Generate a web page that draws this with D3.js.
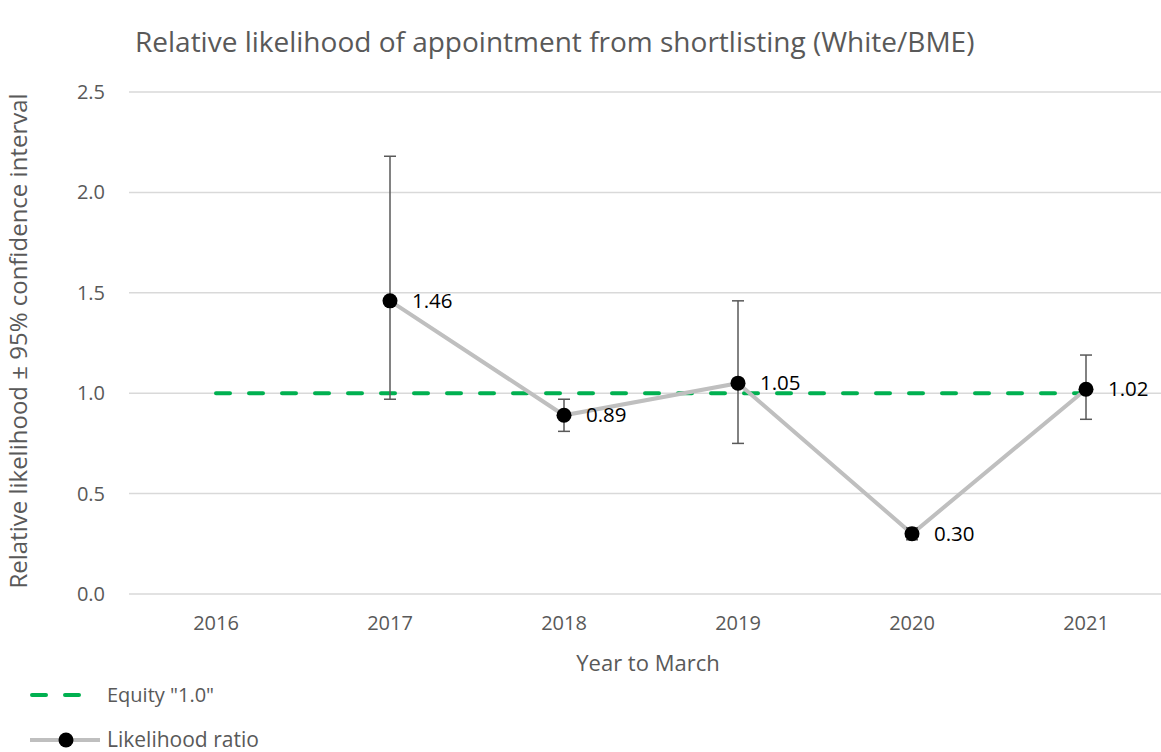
<!DOCTYPE html>
<html>
<head>
<meta charset="utf-8">
<script src="https://cdn.jsdelivr.net/npm/d3@7"></script>
<style>
  body { margin: 0; background: #fff; }
  svg text { font-family: "Open Sans", sans-serif; }
</style>
</head>
<body>
<div id="chart"></div>
<script>
const years = ["2016", "2017", "2018", "2019", "2020", "2021"];
const ratio = [null, 1.46, 0.89, 1.05, 0.30, 1.02];
const ciLow = [null, 0.97, 0.81, 0.75, 0.27, 0.87];
const ciHigh = [null, 2.18, 0.97, 1.46, 0.33, 1.19];
const equity = [1.0, 1.0, 1.0, 1.0, 1.0, 1.0];
const yTicks = [0, 0.5, 1.0, 1.5, 2.0, 2.5];

const width = 1161, height = 752;
const plotLeft = 129, plotRight = 1173, plotTop = 92, plotBottom = 594;

const svg = d3.select("#chart")
  .append("svg")
    .attr("width", width)
    .attr("height", height);

const x = d3.scaleBand()
  .domain(years)
  .range([plotLeft, plotRight]);
const cx = d => x(d) + x.bandwidth() / 2;

const y = d3.scaleLinear()
  .domain([0, 2.5])
  .range([plotBottom, plotTop]);

// title
svg.append("text")
  .attr("x", 135)
  .attr("y", 52)
  .attr("font-size", 28)
  .attr("fill", "#595959")
  .text("Relative likelihood of appointment from shortlisting (White/BME)");

// gridlines
svg.append("g")
  .selectAll("line")
  .data(yTicks)
  .enter()
  .append("line")
    .attr("x1", plotLeft)
    .attr("x2", plotRight)
    .attr("y1", d => y(d))
    .attr("y2", d => y(d))
    .attr("stroke", "#d9d9d9")
    .attr("stroke-width", 1.5);

// y axis
const yAxis = svg.append("g")
  .attr("transform", "translate(" + (plotLeft - 16) + ",0)")
  .call(d3.axisLeft(y).tickValues(yTicks).tickFormat(d3.format(".1f")).tickSize(0).tickPadding(8));
yAxis.select(".domain").remove();
yAxis.selectAll("text")
  .attr("font-size", 20)
  .attr("fill", "#595959")
  .style("font-family", "Open Sans, sans-serif");

// x axis
const xAxis = svg.append("g")
  .attr("transform", "translate(0," + plotBottom + ")")
  .call(d3.axisBottom(x).tickSize(0).tickPadding(22));
xAxis.select(".domain").remove();
xAxis.selectAll("text")
  .attr("font-size", 20)
  .attr("fill", "#595959")
  .style("font-family", "Open Sans, sans-serif");

// axis titles
svg.append("text")
  .attr("x", 648)
  .attr("y", 671)
  .attr("text-anchor", "middle")
  .attr("font-size", 22)
  .attr("fill", "#595959")
  .text("Year to March");

svg.append("text")
  .attr("transform", "translate(27," + 341 + ") rotate(-90)")
  .attr("text-anchor", "middle")
  .attr("font-size", 24)
  .attr("fill", "#595959")
  .text("Relative likelihood \u00b1 95% confidence interval");

// equity line
svg.append("path")
  .datum(years.map((d, i) => [d, equity[i]]))
  .attr("fill", "none")
  .attr("stroke", "#00b050")
  .attr("stroke-width", 4)
  .attr("stroke-linecap", "round")
  .attr("stroke-dasharray", "14 19")
  .attr("d", d3.line().x(d => cx(d[0])).y(d => y(d[1])));

const pts = years.map((d, i) => ({ year: d, v: ratio[i], lo: ciLow[i], hi: ciHigh[i] }))
  .filter(d => d.v !== null);

// likelihood line
svg.append("path")
  .datum(pts)
  .attr("fill", "none")
  .attr("stroke", "#bfbfbf")
  .attr("stroke-width", 4)
  .attr("d", d3.line().x(d => cx(d.year)).y(d => y(d.v)));

// error bars
const err = svg.append("g")
  .attr("stroke", "#595959")
  .attr("stroke-width", 1.5);
err.selectAll(".bar")
  .data(pts)
  .enter()
  .append("line")
    .attr("x1", d => cx(d.year))
    .attr("x2", d => cx(d.year))
    .attr("y1", d => y(d.lo))
    .attr("y2", d => y(d.hi));
err.selectAll(".capHi")
  .data(pts)
  .enter()
  .append("line")
    .attr("x1", d => cx(d.year) - 6)
    .attr("x2", d => cx(d.year) + 6)
    .attr("y1", d => y(d.hi))
    .attr("y2", d => y(d.hi));
err.selectAll(".capLo")
  .data(pts)
  .enter()
  .append("line")
    .attr("x1", d => cx(d.year) - 6)
    .attr("x2", d => cx(d.year) + 6)
    .attr("y1", d => y(d.lo))
    .attr("y2", d => y(d.lo));

// markers
svg.append("g")
  .selectAll("circle")
  .data(pts)
  .enter()
  .append("circle")
    .attr("cx", d => cx(d.year))
    .attr("cy", d => y(d.v))
    .attr("r", 7.5)
    .attr("fill", "#000");

// data labels
svg.append("g")
  .selectAll("text")
  .data(pts)
  .enter()
  .append("text")
    .attr("x", d => cx(d.year) + 22)
    .attr("y", d => y(d.v))
    .attr("dy", "0.35em")
    .attr("font-size", 20.5)
    .attr("fill", "#000")
    .text(d => d3.format(".2f")(d.v));

// legend
const leg = svg.append("g");
leg.append("line")
  .attr("x1", 32).attr("x2", 98)
  .attr("y1", 695).attr("y2", 695)
  .attr("stroke", "#00b050")
  .attr("stroke-width", 4)
  .attr("stroke-linecap", "round")
  .attr("stroke-dasharray", "14 19");
leg.append("text")
  .attr("x", 107).attr("y", 695)
  .attr("dy", "0.35em")
  .attr("font-size", 20)
  .attr("fill", "#595959")
  .text('Equity "1.0"');
leg.append("line")
  .attr("x1", 30).attr("x2", 100)
  .attr("y1", 740).attr("y2", 740)
  .attr("stroke", "#bfbfbf")
  .attr("stroke-width", 4);
leg.append("circle")
  .attr("cx", 66).attr("cy", 740)
  .attr("r", 7.5)
  .attr("fill", "#000");
leg.append("text")
  .attr("x", 107).attr("y", 740)
  .attr("dy", "0.35em")
  .attr("font-size", 21)
  .attr("fill", "#595959")
  .text("Likelihood ratio");
</script>
</body>
</html>
